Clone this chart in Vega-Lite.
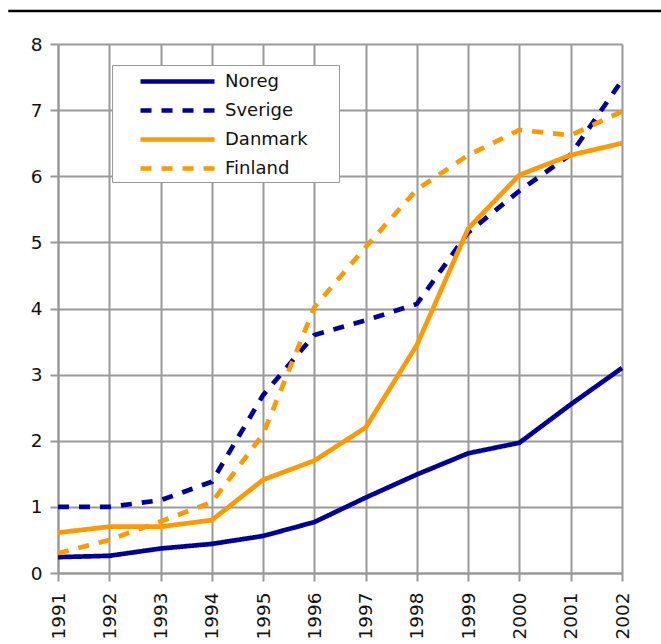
{
  "$schema": "https://vega.github.io/schema/vega-lite/v6.json",
  "width": 564,
  "height": 529,
  "autosize": {"type": "none"},
  "padding": {"left": 58, "top": 44, "right": 39, "bottom": 71},
  "background": "white",
  "config": {
    "font": "DejaVu Sans",
    "view": {"stroke": null},
    "axis": {
      "gridColor": "#999999",
      "gridWidth": 2,
      "gridOpacity": 1,
      "domainColor": "#999999",
      "domainWidth": 2,
      "tickColor": "#999999",
      "tickWidth": 2,
      "tickSize": 8,
      "labelFont": "DejaVu Sans",
      "labelFontSize": 18.5,
      "labelColor": "#111111",
      "title": null
    },
    "legend": {
      "labelFont": "DejaVu Sans",
      "labelFontSize": 18,
      "labelColor": "#111111"
    }
  },
  "datasets": {
    "series": [
      {"country": "Noreg", "year": 1991, "value": 0.24},
      {"country": "Noreg", "year": 1992, "value": 0.26},
      {"country": "Noreg", "year": 1993, "value": 0.37},
      {"country": "Noreg", "year": 1994, "value": 0.44},
      {"country": "Noreg", "year": 1995, "value": 0.56},
      {"country": "Noreg", "year": 1996, "value": 0.77},
      {"country": "Noreg", "year": 1997, "value": 1.14},
      {"country": "Noreg", "year": 1998, "value": 1.49},
      {"country": "Noreg", "year": 1999, "value": 1.81},
      {"country": "Noreg", "year": 2000, "value": 1.97},
      {"country": "Noreg", "year": 2001, "value": 2.55},
      {"country": "Noreg", "year": 2002, "value": 3.1},
      {"country": "Sverige", "year": 1991, "value": 1.0},
      {"country": "Sverige", "year": 1992, "value": 1.0},
      {"country": "Sverige", "year": 1993, "value": 1.1},
      {"country": "Sverige", "year": 1994, "value": 1.38},
      {"country": "Sverige", "year": 1995, "value": 2.69},
      {"country": "Sverige", "year": 1996, "value": 3.6},
      {"country": "Sverige", "year": 1997, "value": 3.82},
      {"country": "Sverige", "year": 1998, "value": 4.07},
      {"country": "Sverige", "year": 1999, "value": 5.15},
      {"country": "Sverige", "year": 2000, "value": 5.78},
      {"country": "Sverige", "year": 2001, "value": 6.33},
      {"country": "Sverige", "year": 2002, "value": 7.45},
      {"country": "Danmark", "year": 1991, "value": 0.61},
      {"country": "Danmark", "year": 1992, "value": 0.7},
      {"country": "Danmark", "year": 1993, "value": 0.7},
      {"country": "Danmark", "year": 1994, "value": 0.8},
      {"country": "Danmark", "year": 1995, "value": 1.41},
      {"country": "Danmark", "year": 1996, "value": 1.7},
      {"country": "Danmark", "year": 1997, "value": 2.2},
      {"country": "Danmark", "year": 1998, "value": 3.45},
      {"country": "Danmark", "year": 1999, "value": 5.21},
      {"country": "Danmark", "year": 2000, "value": 6.02},
      {"country": "Danmark", "year": 2001, "value": 6.32},
      {"country": "Danmark", "year": 2002, "value": 6.5},
      {"country": "Finland", "year": 1991, "value": 0.3},
      {"country": "Finland", "year": 1992, "value": 0.5},
      {"country": "Finland", "year": 1993, "value": 0.78},
      {"country": "Finland", "year": 1994, "value": 1.07},
      {"country": "Finland", "year": 1995, "value": 2.1},
      {"country": "Finland", "year": 1996, "value": 4.02},
      {"country": "Finland", "year": 1997, "value": 4.93},
      {"country": "Finland", "year": 1998, "value": 5.8},
      {"country": "Finland", "year": 1999, "value": 6.32},
      {"country": "Finland", "year": 2000, "value": 6.7},
      {"country": "Finland", "year": 2001, "value": 6.62},
      {"country": "Finland", "year": 2002, "value": 6.98}
    ]
  },
  "layer": [
    {
      "data": {"name": "series"},
      "mark": {"type": "line", "strokeWidth": 4.7, "strokeCap": "butt", "clip": false},
      "encoding": {
        "x": {
          "field": "year",
          "type": "quantitative",
          "scale": {"domain": [1991, 2002], "nice": false, "zero": false},
          "axis": {
            "values": [1991, 1992, 1993, 1994, 1995, 1996, 1997, 1998, 1999, 2000, 2001, 2002],
            "format": "d",
            "labelAngle": 270,
            "labelAlign": "right",
            "labelBaseline": "middle",
            "labelPadding": 11,
            "grid": true
          }
        },
        "y": {
          "field": "value",
          "type": "quantitative",
          "scale": {"domain": [0, 8], "nice": false},
          "axis": {
            "values": [0, 1, 2, 3, 4, 5, 6, 7, 8],
            "format": "d",
            "labelPadding": 8,
            "grid": true
          }
        },
        "color": {
          "field": "country",
          "type": "nominal",
          "sort": ["Noreg", "Sverige", "Danmark", "Finland"],
          "scale": {
            "domain": ["Noreg", "Sverige", "Danmark", "Finland"],
            "range": ["#000099", "#000099", "#FF9900", "#FF9900"]
          },
          "legend": {
            "title": " ",
            "titleOrient": "right",
            "titlePadding": 27,
            "orient": "none",
            "legendX": 54,
            "legendY": 21,
            "symbolType": "M-3.7,0H3.7",
            "symbolSize": 400,
            "symbolStrokeWidth": 4.7,
            "symbolOffset": 49,
            "labelOffset": 35,
            "padding": 4,
            "rowPadding": 7,
            "fillColor": "white",
            "strokeColor": "#999999"
          }
        },
        "strokeDash": {
          "field": "country",
          "type": "nominal",
          "sort": ["Noreg", "Sverige", "Danmark", "Finland"],
          "scale": {
            "domain": ["Noreg", "Sverige", "Danmark", "Finland"],
            "range": [[1, 0], [11, 10], [1, 0], [11, 10]]
          },
          "legend": {
            "title": " ",
            "titleOrient": "right",
            "titlePadding": 27,
            "orient": "none",
            "legendX": 54,
            "legendY": 21,
            "symbolType": "M-3.7,0H3.7",
            "symbolSize": 400,
            "symbolStrokeWidth": 4.7,
            "symbolOffset": 49,
            "labelOffset": 35,
            "padding": 4,
            "rowPadding": 7,
            "fillColor": "white",
            "strokeColor": "#999999"
          }
        }
      }
    },
    {
      "data": {"values": [{}]},
      "mark": {"type": "rule", "color": "black", "strokeWidth": 2.5, "clip": false},
      "encoding": {
        "x": {"datum": 1990.03, "type": "quantitative"},
        "x2": {"datum": 2002.8},
        "y": {"datum": 8.5, "type": "quantitative"}
      }
    }
  ]
}
